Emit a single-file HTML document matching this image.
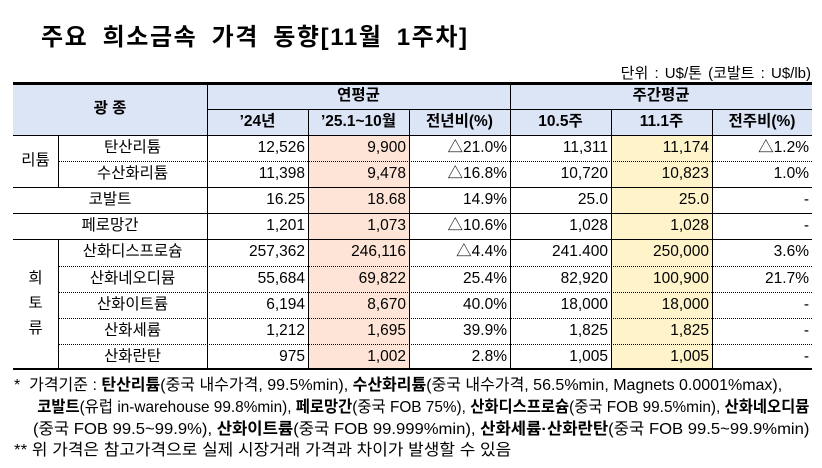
<!DOCTYPE html>
<html><head><meta charset="utf-8"><style>
body{margin:0;width:822px;height:468px;background:#fff;position:relative;overflow:hidden;font-family:"Liberation Sans","Noto Sans CJK KR",sans-serif;color:#000}
.a{position:absolute}
.c{position:absolute;font-size:15.5px;line-height:26px;white-space:nowrap;box-sizing:border-box}
.h{font-weight:bold;text-align:center}
.hl{position:absolute;height:0}
.vl{position:absolute;width:1px;background:#000}
.fn{position:absolute;left:14px;font-size:16px;white-space:nowrap;transform-origin:0 0;line-height:20px}
</style></head><body>
<div class="a" style="left:41px;top:17px;font-size:24px;font-weight:bold;letter-spacing:1.6px;word-spacing:6px">주요 희소금속 가격 동향[11월 1주차]</div>
<div class="a" style="right:11px;top:62px;font-size:15px;word-spacing:2px">단위 : U$/톤 (코발트 : U$/lb)</div>
<div class="a" style="left:13px;top:83px;width:799px;height:52px;background:#dce5f6"></div>
<div class="a" style="left:308px;top:135px;width:101px;height:234px;background:#fde4d6"></div>
<div class="a" style="left:611px;top:135px;width:101px;height:234px;background:#fff4c9"></div>
<div id="t"></div>
<div class="fn" style="top:376px;transform:scaleX(1.0)">*&nbsp; 가격기준 : <b>탄산리튬</b>(중국 내수가격, 99.5%min), <b>수산화리튬</b>(중국 내수가격, 56.5%min, Magnets 0.0001%max),</div>
<div class="fn" style="top:398px;left:33px;transform:scaleX(0.96)">&nbsp;<b>코발트</b>(유럽 in-warehouse 99.8%min), <b>페로망간</b>(중국 FOB 75%), <b>산화디스프로슘</b>(중국 FOB 99.5%min), <b>산화네오디뮴</b></div>
<div class="fn" style="top:420px;left:33px;transform:scaleX(1.04)">(중국 FOB 99.5~99.9%), <b>산화이트륨</b>(중국 FOB 99.999%min), <b>산화세륨·산화란탄</b>(중국 FOB 99.5~99.9%min)</div>
<div class="fn" style="top:441px;transform:scaleX(1.06)">** 위 가격은 참고가격으로 실제 시장거래 가격과 차이가 발생할 수 있음</div>
<script>
const names=["탄산리튬","수산화리튬","코발트","페로망간","산화디스프로슘","산화네오디뮴","산화이트륨","산화세륨","산화란탄"];
const y24=["12,526","11,398","16.25","1,201","257,362","55,684","6,194","1,212","975"];
const y25=["9,900","9,478","18.68","1,073","246,116","69,822","8,670","1,695","1,002"];
const yoy=["△21.0%","△16.8%","14.9%","△10.6%","△4.4%","25.4%","40.0%","39.9%","2.8%"];
const w105=["11,311","10,720","25.0","1,028","241.400","82,920","18,000","1,825","1,005"];
const w111=["11,174","10,823","25.0","1,028","250,000","100,900","18,000","1,825","1,005"];
const wow=["△1.2%","1.0%","-","-","3.6%","21.7%","-","-","-"];
const T=document.getElementById('t');
const colX=[13,58,207,308,409,510,611,712,812];
const top0=135,rh=26.1;
function cell(txt,x,y,w,h,align,cls){const d=document.createElement('div');d.className='c'+(cls?' '+cls:'');d.style.left=x+'px';d.style.top=y+'px';d.style.width=w+'px';d.style.height=h+'px';d.style.lineHeight=h+'px';d.style.textAlign=align;if(align==='right')d.style.paddingRight='3px';d.textContent=txt;T.appendChild(d);return d;}
function hl(x1,x2,y,style){const d=document.createElement('div');d.className='hl';d.style.left=x1+'px';d.style.width=(x2-x1)+'px';d.style.top=y+'px';d.style.borderTop=style;T.appendChild(d);return d;}
function vl(x,y1,y2){const d=document.createElement('div');d.className='vl';d.style.left=x+'px';d.style.top=y1+'px';d.style.height=(y2-y1)+'px';T.appendChild(d);return d;}
let e;
e=cell("광  종",13,83,194,52,'center','h');


e=cell("연평균",207,83,303,26,'center','h');


e=cell("주간평균",510,83,302,26,'center','h');


const subs=["’24년","’25.1~10월","전년비(%)","10.5주","11.1주","전주비(%)"];
subs.forEach((s,i)=>{e=cell(s,colX[i+2],109,colX[i+3]-colX[i+2],26,'center','h');

});
const cols=[y24,y25,yoy,w105,w111,wow];
names.forEach((n,r)=>{const y=top0+r*rh;
 const nx=(r<2||r>=4)?58:13;
 e=cell(n,nx,y,207-nx,rh,'center');
 
 
 cols.forEach((c,i)=>{e=cell(c[r],colX[i+2],y,colX[i+3]-colX[i+2],rh,'right');
 
 });
});
e=cell("리튬",13,top0,45,rh*2,'center');


e=cell("",13,top0+rh*4,45,rh*5,'center');
e.innerHTML='<div style="line-height:25px;position:absolute;top:27px;width:45px;text-align:center">희<br>토<br>류</div>';


hl(13,812,82,'3px solid #000');
hl(207,812,109,'1px solid #000');
hl(13,812,135,'1px solid #000');
for(let r=1;r<9;r++){const y=Math.round(top0+r*rh);
 if(r===1||r>=5) hl(58,812,y,'1px dotted #000'); else hl(13,812,y,'1px solid #000');}
hl(13,812,368,'2px solid #000');
[207,510].forEach(x=>vl(x,84,369));
[308,409,611,712].forEach(x=>vl(x,109,369));
vl(58,135,Math.round(top0+2*rh));vl(58,Math.round(top0+4*rh),369);
</script>
</body></html>
